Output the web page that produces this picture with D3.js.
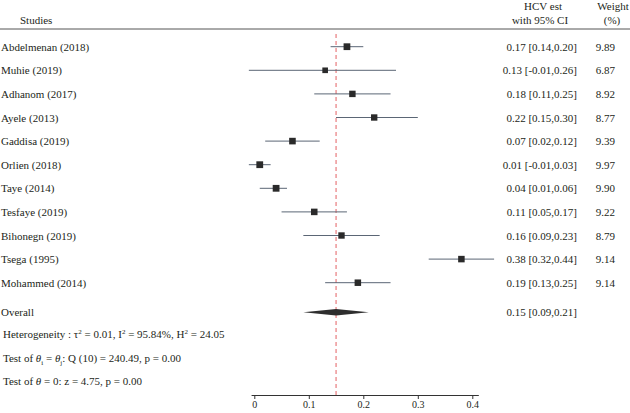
<!DOCTYPE html>
<html>
<head>
<meta charset="utf-8">
<script src="https://cdn.jsdelivr.net/npm/d3@7"></script>
<style>
  html, body { margin: 0; padding: 0; background: #fff; }
  svg text { font-family: "Liberation Serif", "Times New Roman", serif; fill: #231f20; }
</style>
</head>
<body>
<svg id="chart" width="630" height="413"></svg>
<script>
const studies = ["Abdelmenan (2018)", "Muhie (2019)", "Adhanom (2017)", "Ayele (2013)", "Gaddisa (2019)", "Orlien (2018)", "Taye (2014)", "Tesfaye (2019)", "Bihonegn (2019)", "Tsega (1995)", "Mohammed (2014)"];
const estimates = [0.17, 0.13, 0.18, 0.22, 0.07, 0.01, 0.04, 0.11, 0.16, 0.38, 0.19];
const lower = [0.14, -0.01, 0.11, 0.15, 0.02, -0.01, 0.01, 0.05, 0.09, 0.32, 0.13];
const upper = [0.20, 0.26, 0.25, 0.30, 0.12, 0.03, 0.06, 0.17, 0.23, 0.44, 0.25];
const weights = [9.89, 6.87, 8.92, 8.77, 9.39, 9.97, 9.90, 9.22, 8.79, 9.14, 9.14];
const overall = { est: 0.15, lo: 0.09, hi: 0.21 };
const xTicks = [0, 0.1, 0.2, 0.3, 0.4];
const tickLabels = ["0", "0.1", "0.2", "0.3", "0.4"];

const svg = d3.select("#chart");
const x = d3.scaleLinear().domain([0, 0.4]).range([254.3, 472.3]);
const y = d3.scaleLinear().domain([0, 10]).range([46.7, 282.7]);
const yOverall = 312.3;
const side = d3.scaleSqrt().domain([0, 10]).range([0, 6.8]);
const fmt = v => v.toFixed(2);

// Header
svg.append("text").attr("x", 20).attr("y", 24).attr("font-size", 11).text("Studies");
svg.append("text").attr("x", 543).attr("y", 10).attr("font-size", 11).attr("text-anchor", "middle").text("HCV est");
svg.append("text").attr("x", 540).attr("y", 24).attr("font-size", 11).attr("text-anchor", "middle").text("with 95% CI");
svg.append("text").attr("x", 613).attr("y", 10).attr("font-size", 11).attr("text-anchor", "middle").text("Weight");
svg.append("text").attr("x", 612).attr("y", 24).attr("font-size", 11).attr("text-anchor", "middle").text("(%)");
svg.append("line").attr("x1", 0).attr("x2", 630).attr("y1", 29).attr("y2", 29)
  .attr("stroke", "#555").attr("stroke-width", 1);

// Reference line at overall estimate
svg.append("line").attr("x1", x(overall.est)).attr("x2", x(overall.est))
  .attr("y1", 34).attr("y2", 395)
  .attr("stroke", "#e0454a").attr("stroke-width", 1).attr("stroke-dasharray", "4,3").attr("opacity", 0.85);

// Rows
const rows = svg.append("g").selectAll("g").data(studies).join("g");
rows.append("text").attr("x", 1).attr("y", (d, i) => y(i) + 4).attr("font-size", 11).text(d => d);
rows.append("line")
  .attr("x1", (d, i) => x(lower[i])).attr("x2", (d, i) => x(upper[i]))
  .attr("y1", (d, i) => y(i)).attr("y2", (d, i) => y(i))
  .attr("stroke", "#5b6675").attr("stroke-width", 1);
rows.append("rect")
  .attr("x", (d, i) => x(estimates[i]) - side(weights[i]) / 2)
  .attr("y", (d, i) => y(i) - side(weights[i]) / 2)
  .attr("width", (d, i) => side(weights[i]))
  .attr("height", (d, i) => side(weights[i]))
  .attr("fill", "#2a2a2a");
rows.append("text").attr("x", 577).attr("y", (d, i) => y(i) + 4).attr("font-size", 11)
  .attr("text-anchor", "end")
  .text((d, i) => `${fmt(estimates[i])} [${fmt(lower[i])},${fmt(upper[i])}]`);
rows.append("text").attr("x", 615).attr("y", (d, i) => y(i) + 4).attr("font-size", 11)
  .attr("text-anchor", "end")
  .text((d, i) => fmt(weights[i]));

// Overall
svg.append("text").attr("x", 1).attr("y", yOverall + 4).attr("font-size", 11).text("Overall");
svg.append("path")
  .attr("d", `M${x(overall.lo)},${yOverall} L${x(overall.est)},${yOverall - 3.2} L${x(overall.hi)},${yOverall} L${x(overall.est)},${yOverall + 3.2} Z`)
  .attr("fill", "#2e2e2e");
svg.append("text").attr("x", 577).attr("y", yOverall + 4).attr("font-size", 11).attr("text-anchor", "end")
  .text(`${fmt(overall.est)} [${fmt(overall.lo)},${fmt(overall.hi)}]`);

// Footnotes
const f1 = svg.append("text").attr("x", 3).attr("y", 338).attr("font-size", 11);
f1.append("tspan").text("Heterogeneity : τ");
f1.append("tspan").attr("dy", -4).attr("font-size", 7).text("2");
f1.append("tspan").attr("dy", 4).text(" = 0.01, I");
f1.append("tspan").attr("dy", -4).attr("font-size", 7).text("2");
f1.append("tspan").attr("dy", 4).text(" = 95.84%, H");
f1.append("tspan").attr("dy", -4).attr("font-size", 7).text("2");
f1.append("tspan").attr("dy", 4).text(" = 24.05");

const f2 = svg.append("text").attr("x", 3).attr("y", 362).attr("font-size", 11);
f2.append("tspan").text("Test of ");
f2.append("tspan").attr("font-style", "italic").text("θ");
f2.append("tspan").attr("dy", 2.5).attr("font-size", 7).text("i");
f2.append("tspan").attr("dy", -2.5).text(" = ");
f2.append("tspan").attr("font-style", "italic").text("θ");
f2.append("tspan").attr("dy", 2.5).attr("font-size", 7).text("j");
f2.append("tspan").attr("dy", -2.5).text(": Q (10) = 240.49, p = 0.00");

const f3 = svg.append("text").attr("x", 3).attr("y", 385).attr("font-size", 11);
f3.append("tspan").text("Test of ");
f3.append("tspan").attr("font-style", "italic").text("θ");
f3.append("tspan").text(" = 0: z = 4.75, p = 0.00");

// Axis
const axis = d3.axisBottom(x).tickValues(xTicks).tickFormat((d, i) => tickLabels[i]).tickSizeOuter(0).tickSize(4).tickPadding(2);
const ag = svg.append("g").attr("transform", "translate(0,395)").call(axis);
ag.select(".domain").attr("d", `M${x(-0.005)},0.5H${x(0.412)}`).attr("stroke", "#333");
ag.selectAll(".tick line").attr("stroke", "#333");
ag.selectAll(".tick text").attr("font-family", "Liberation Serif, serif").attr("font-size", 10).attr("fill", "#231f20");
</script>
</body>
</html>
